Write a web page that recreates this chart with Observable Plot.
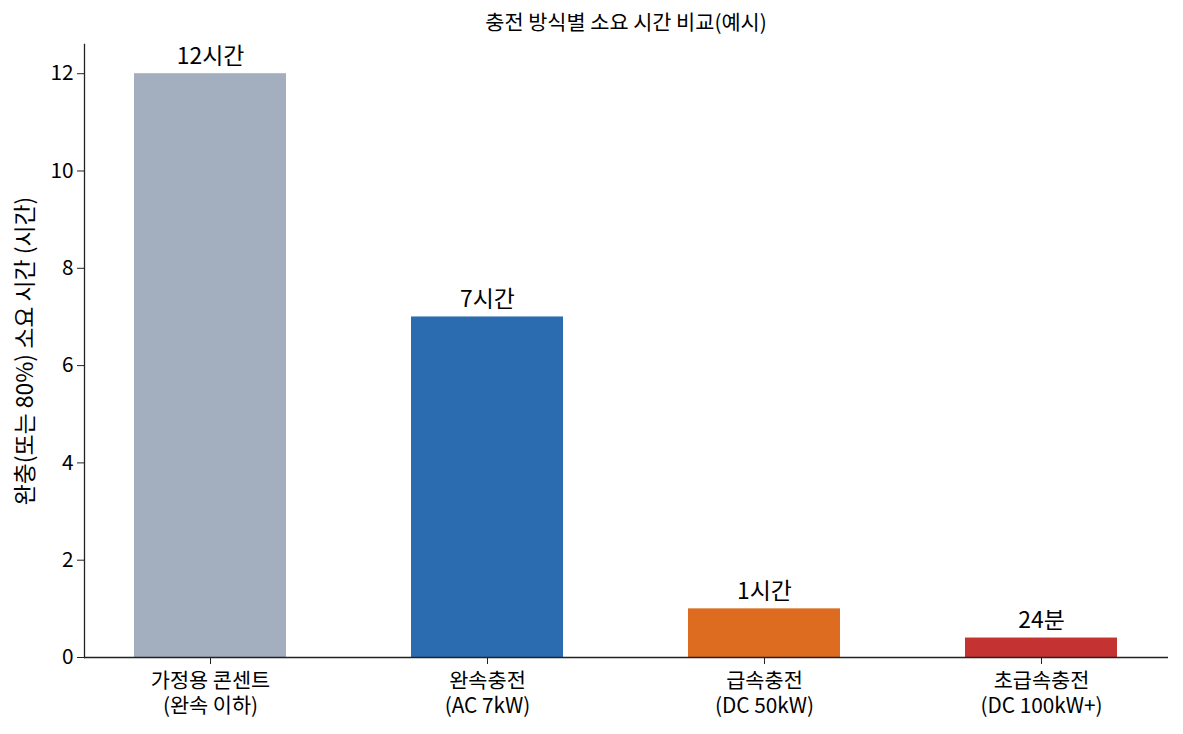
<!DOCTYPE html>
<html>
<head>
<meta charset="utf-8">
<script src="https://cdn.jsdelivr.net/npm/d3@7"></script>
<script src="https://cdn.jsdelivr.net/npm/@observablehq/plot@0.6"></script>
<style>
  body { margin: 0; background: #fff; font-family: "Noto Sans CJK KR", "Noto Sans", sans-serif; }
  #title { padding: 8px 15px 0 84px; text-align: center; font-size: 20.8px; color: #000; line-height: 26px; white-space: nowrap; }
</style>
</head>
<body>
<div id="title">충전 방식별 소요 시간 비교(예시)</div>
<div id="chart"></div>
<script>
const categories = ["가정용 콘센트\n(완속 이하)", "완속충전\n(AC 7kW)", "급속충전\n(DC 50kW)", "초급속충전\n(DC 100kW+)"];
const hours = [12, 7, 1, 0.4];
const valueLabels = ["12시간", "7시간", "1시간", "24분"];
const colors = ["#A3AEBF", "#2B6CB0", "#DD6B20", "#C53232"];
const yTicks = [0, 2, 4, 6, 8, 10, 12];
const yLabel = "완충(또는 80%) 소요 시간 (시간)";

const data = categories.map((c, i) => ({category: c, hours: hours[i], label: valueLabels[i], color: colors[i]}));

const chart = Plot.plot({
  width: 1183,
  height: 700,
  marginLeft: 84,
  marginRight: 15,
  marginTop: 10,
  marginBottom: 77,
  style: {fontFamily: '"Noto Sans CJK KR", "Noto Sans", sans-serif', fontSize: "20.8px", color: "#000", background: "#fff"},
  x: {domain: categories, paddingInner: 0.45, paddingOuter: 0.18, label: null},
  y: {domain: [0, 12.6], label: null},
  marks: [
    Plot.barY(data, {x: "category", y: "hours", fill: "color"}),
    Plot.text(data, {x: "category", y: "hours", text: "label", lineAnchor: "bottom", dy: -10, fontSize: 22.9, fill: "#000"}),
    Plot.axisY({ticks: yTicks, tickSize: 7, tickPadding: 4, fontSize: 20.8, label: null, stroke: "#222"}),
    Plot.axisX({tickSize: 7, tickPadding: 6, fontSize: 20.8, lineHeight: 1.2, label: null, stroke: "#222"}),
    Plot.ruleY([0], {stroke: "#222", strokeWidth: 1.3}),
    Plot.frame({anchor: "left", stroke: "#222", strokeWidth: 1.3}),
    Plot.text([yLabel], {frameAnchor: "left", textAnchor: "middle", rotate: -90, dx: -59, fontSize: 22.9, fill: "#000"})
  ]
});
document.getElementById("chart").appendChild(chart);
</script>
</body>
</html>
